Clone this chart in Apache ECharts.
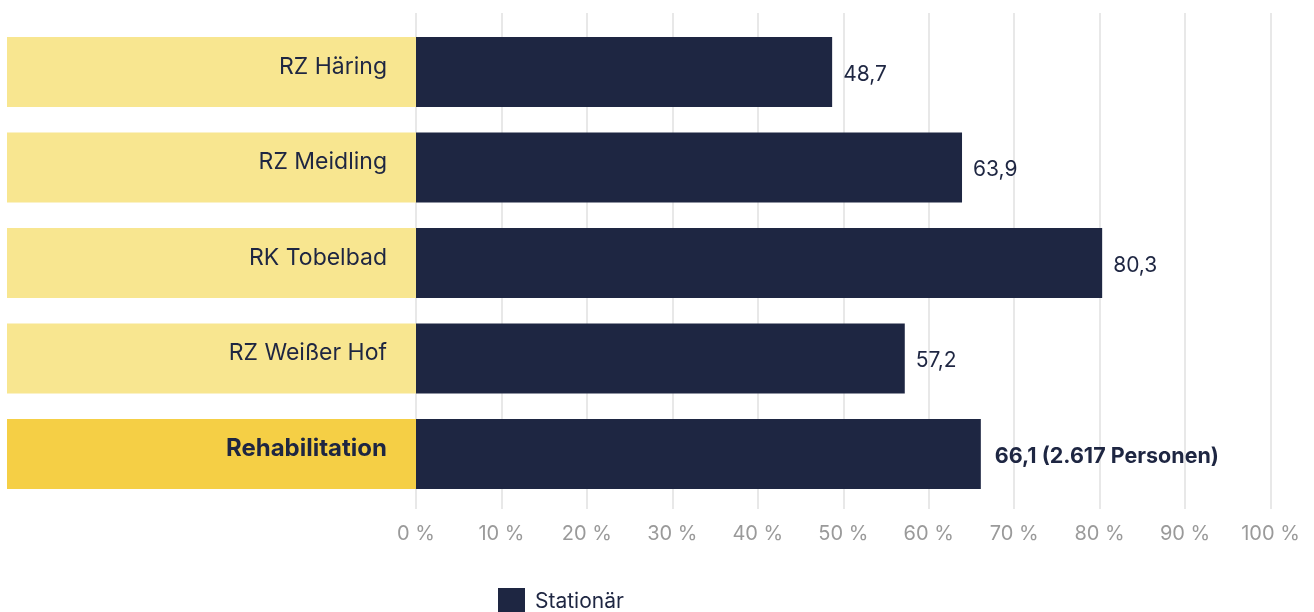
<!DOCTYPE html>
<html>
<head>
<meta charset="utf-8">
<script src="https://cdn.jsdelivr.net/npm/echarts@6/dist/echarts.min.js"></script>
<style>
html,body{margin:0;padding:0;background:#fff;}
#chart{width:1314px;height:612px;}
</style>
</head>
<body>
<div id="chart"></div>
<script>
const categories = ['RZ Häring', 'RZ Meidling', 'RK Tobelbad', 'RZ Weißer Hof', 'Rehabilitation'];
const values = [48.7, 63.9, 80.3, 57.2, 66.1];
const totalPersons = '2.617';
const seriesName = 'Stationär';
const xTicks = [0, 10, 20, 30, 40, 50, 60, 70, 80, 90, 100];

const NAVY = '#1E2642';
const FONT = 'Inter, "Noto Sans", sans-serif';

const chart = echarts.init(document.getElementById('chart'));

const fmt = v => v.toFixed(1).replace('.', ',');

const boxStyle = {
  width: 380,
  height: 60,
  lineHeight: 60,
  padding: [0, 29, 10, 0],
  align: 'right',
  color: NAVY,
  fontFamily: FONT
};

const seriesData = values.map((v, i) => {
  const isTotal = i === values.length - 1;
  return {
    value: v,
    label: isTotal ? {
      fontWeight: 'bold',
      fontSize: 21.5,
      distance: 14,
      formatter: () => fmt(v) + ' (' + totalPersons + ' Personen)'
    } : {}
  };
});

chart.setOption({
  animation: false,
  textStyle: { fontFamily: FONT },
  legend: {
    data: [{ name: seriesName, icon: 'rect' }],
    left: 498,
    top: 588,
    padding: 0,
    itemWidth: 27,
    itemHeight: 27,
    itemGap: 10,
    textStyle: { fontSize: 21, color: NAVY, fontFamily: FONT, padding: [0, 0, 0, 5] }
  },
  grid: [
    { left: 416, right: 43.5, top: 24.25, height: 477.5, containLabel: false },
    { left: 416, right: 43.5, top: 13, bottom: 103, containLabel: false }
  ],
  xAxis: [
    {
      gridIndex: 0, type: 'value', min: 0, max: 100, interval: 10,
      show: false
    },
    {
      gridIndex: 1, type: 'value', min: xTicks[0], max: xTicks[xTicks.length - 1], interval: 10,
      axisLine: { show: false },
      axisTick: { show: false },
      splitLine: { show: true, lineStyle: { color: '#E8E8E8', width: 2 } },
      axisLabel: {
        margin: 15,
        fontSize: 20,
        color: '#9A9A9A',
        fontFamily: FONT,
        formatter: v => v + ' %'
      }
    }
  ],
  yAxis: [
    {
      gridIndex: 0, type: 'category', inverse: true, data: categories,
      axisLine: { show: false },
      axisTick: { show: false },
      splitLine: { show: false },
      axisLabel: {
        margin: 0,
        fontSize: 23,
        color: NAVY,
        fontFamily: FONT,
        formatter: (val, idx) => (idx === categories.length - 1 ? '{b|' : '{n|') + val + '}',
        rich: {
          n: Object.assign({}, boxStyle, { backgroundColor: '#F8E690', fontSize: 23, fontWeight: 'normal' }),
          b: Object.assign({}, boxStyle, { backgroundColor: '#F5CF45', fontSize: 24, fontWeight: 'bold' })
        }
      }
    },
    {
      gridIndex: 1, type: 'category', show: false, data: categories
    }
  ],
  series: [
    {
      name: seriesName,
      type: 'bar',
      xAxisIndex: 0,
      yAxisIndex: 0,
      barWidth: 70,
      itemStyle: { color: NAVY },
      label: {
        show: true,
        position: 'right',
        distance: 11,
        offset: [0, 2.5],
        fontSize: 21,
        color: NAVY,
        fontFamily: FONT,
        formatter: p => fmt(p.value)
      },
      data: seriesData
    }
  ]
});
</script>
</body>
</html>
